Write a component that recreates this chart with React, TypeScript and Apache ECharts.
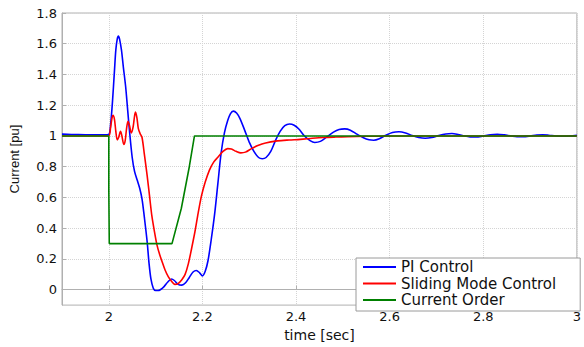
import React, { useEffect, useRef } from "react";
import * as echarts from "echarts";

const xTicks = [2, 2.2, 2.4, 2.6, 2.8, 3];
const yTicks = [0, 0.2, 0.4, 0.6, 0.8, 1, 1.2, 1.4, 1.6, 1.8];

const piTime = [
  1.9, 1.92, 1.95, 1.99, 2.0, 2.004, 2.008, 2.012, 2.015, 2.018, 2.0205, 2.023, 2.027, 2.031, 2.036,
  2.04, 2.044, 2.05, 2.055, 2.061, 2.066, 2.071, 2.076, 2.082, 2.086, 2.09, 2.095, 2.1, 2.105, 2.11,
  2.118, 2.126, 2.134, 2.14, 2.148, 2.156, 2.164, 2.172, 2.18, 2.187, 2.194, 2.2, 2.206, 2.212, 2.219,
  2.226, 2.233, 2.24, 2.247, 2.254, 2.26, 2.266, 2.273, 2.28, 2.29, 2.3, 2.31, 2.32, 2.328, 2.336,
  2.346, 2.356, 2.366, 2.376, 2.386, 2.396, 2.406, 2.418, 2.43, 2.44, 2.452, 2.466, 2.48, 2.492, 2.504,
  2.516, 2.53, 2.544, 2.556, 2.566, 2.578, 2.592, 2.606, 2.62, 2.634, 2.648, 2.662, 2.676, 2.69, 2.705,
  2.72, 2.733, 2.746, 2.76, 2.772, 2.785, 2.8, 2.815, 2.83, 2.845, 2.86, 2.872, 2.885, 2.9, 2.914,
  2.927, 2.94, 2.955, 2.97, 2.985, 3.0,
];
const piValue = [
  1.012, 1.01, 1.008, 1.007, 1.01, 1.08, 1.23, 1.42, 1.56, 1.63, 1.65, 1.63, 1.56, 1.45, 1.32,
  1.18, 1.04, 0.86, 0.77, 0.71, 0.66, 0.59, 0.47, 0.31, 0.17, 0.07, 0.01, -0.005, -0.005, 0.0,
  0.02, 0.05, 0.07, 0.06, 0.035, 0.03, 0.045, 0.08, 0.115, 0.125, 0.11, 0.09, 0.12, 0.19, 0.33,
  0.49, 0.69, 0.89, 1.02, 1.1, 1.145, 1.162, 1.15, 1.115, 1.04, 0.96, 0.9, 0.86, 0.852, 0.86,
  0.9, 0.97, 1.03, 1.067, 1.078, 1.07, 1.045, 1.0, 0.97, 0.958, 0.965, 0.995, 1.025, 1.042, 1.046,
  1.038, 1.012, 0.988, 0.975, 0.972, 0.982, 1.005, 1.023, 1.028, 1.02, 1.003, 0.99, 0.985, 0.99, 1.003,
  1.013, 1.016, 1.01, 1.0, 0.994, 0.993, 1.0, 1.008, 1.011, 1.007, 1.0, 0.996, 0.996, 1.0, 1.006,
  1.008, 1.005, 1.0, 0.998, 1.0, 1.004,
];

const smcTime = [
  1.9, 1.99, 2.0, 2.004, 2.007, 2.009, 2.012, 2.015, 2.018, 2.021, 2.025, 2.028, 2.032, 2.035, 2.038,
  2.041, 2.044, 2.048, 2.052, 2.055, 2.057, 2.06, 2.063, 2.067, 2.071, 2.076, 2.082, 2.087, 2.092, 2.098,
  2.103, 2.108, 2.113, 2.12, 2.127, 2.134, 2.141, 2.148, 2.156, 2.163, 2.17, 2.177, 2.184, 2.191, 2.198,
  2.206, 2.215, 2.224, 2.233, 2.244, 2.254, 2.262, 2.272, 2.282, 2.292, 2.305, 2.317, 2.335, 2.36, 2.385,
  2.409, 2.435, 2.458, 2.485, 2.51, 2.55, 2.6, 3.0,
];
const smcValue = [
  1.0, 1.0, 1.0, 1.06, 1.12, 1.135, 1.11, 1.03, 0.975, 0.99, 1.03, 1.0, 0.945, 0.97, 1.05,
  1.095, 1.07, 1.02, 1.06, 1.13, 1.155, 1.12, 1.05, 1.015, 0.99, 0.88, 0.74, 0.61, 0.48, 0.37,
  0.29, 0.235, 0.19, 0.13, 0.085, 0.055, 0.035, 0.04, 0.065, 0.1, 0.17, 0.27, 0.377, 0.5, 0.61,
  0.7, 0.778, 0.83, 0.862, 0.9, 0.918, 0.915, 0.9, 0.89, 0.895, 0.918, 0.936, 0.955, 0.968, 0.974,
  0.978, 0.985, 0.99, 0.993, 0.995, 0.998, 1.0, 1.0,
];

const orderTime = [1.9, 2.0, 2.0, 2.001, 2.135, 2.155, 2.172, 2.183, 3.0];
const orderValue = [1.0, 1.0, 0.65, 0.3, 0.3, 0.53, 0.8, 1.0, 1.0];

const seriesNames = ["PI Control", "Sliding Mode Control", "Current Order"];
const seriesColors = ["#0000ff", "#ff0000", "#008000"];

const zip = (xs: number[], ys: number[]) => xs.map((x, i) => [x, ys[i]]);

const frameColor = "#b0b0b0";
const gridColor = "#d4d4d4";
const textFont = "DejaVu Sans";

export default function App() {
  const ref = useRef<HTMLDivElement>(null);
  useEffect(() => {
    if (!ref.current) return;
    const chart = echarts.init(ref.current, undefined, { renderer: "svg" });
    const datasets = [zip(piTime, piValue), zip(smcTime, smcValue), zip(orderTime, orderValue)];
    chart.setOption({
      animation: false,
      backgroundColor: "#ffffff",
      color: seriesColors,
      grid: {
        left: 60,
        right: 2.5,
        top: 13,
        bottom: 35,
        show: true,
        borderColor: frameColor,
        borderWidth: 1,
        backgroundColor: "#ffffff",
      },
      legend: {
        orient: "vertical",
        left: 356,
        top: 258,
        padding: [1, 24, 3, 6],
        itemGap: 0.5,
        itemWidth: 33,
        itemHeight: 16,
        selectedMode: false,
        backgroundColor: "#ffffff",
        borderColor: "#9a9a9a",
        borderWidth: 1,
        itemStyle: { opacity: 0 },
        textStyle: { fontFamily: textFont, fontSize: 15, color: "#111", lineHeight: 16 },
        data: seriesNames,
      },
      xAxis: {
        type: "value",
        min: 1.9,
        max: 3,
        name: "time [sec]",
        nameLocation: "middle",
        nameGap: 18,
        nameTextStyle: { fontFamily: textFont, fontSize: 14, color: "#111" },
        axisLine: { show: true, lineStyle: { color: frameColor } },
        axisTick: { show: true, inside: true, length: 4, lineStyle: { color: frameColor }, customValues: xTicks },
        axisLabel: {
          customValues: xTicks,
          fontFamily: textFont,
          fontSize: 13,
          color: "#111",
          margin: 5,
          formatter: (v: number) => String(v),
        },
        splitLine: { show: true, lineStyle: { color: gridColor, type: "dotted", width: 1 } },
      },
      yAxis: {
        type: "value",
        min: -0.1,
        max: 1.8,
        name: "Current [pu]",
        nameLocation: "middle",
        nameGap: 41,
        nameTextStyle: { fontFamily: "Liberation Sans", fontSize: 13, color: "#111" },
        axisLine: { show: true, lineStyle: { color: frameColor } },
        axisTick: { show: true, inside: true, length: 4, lineStyle: { color: frameColor }, customValues: yTicks },
        axisLabel: {
          customValues: yTicks,
          fontFamily: textFont,
          fontSize: 13,
          color: "#111",
          margin: 5,
          formatter: (v: number) => String(v),
        },
        splitLine: { show: true, lineStyle: { color: gridColor, type: "dotted", width: 1 } },
      },
      series: seriesNames.map((name, i) => ({
        name,
        type: "line",
        data: datasets[i],
        symbol: "none",
        smooth: i === 2 ? false : 0.3,
        itemStyle: { color: seriesColors[i] },
        lineStyle: { color: seriesColors[i], width: 1.6 },
        z: 2 + i,
      })),
    });
    return () => chart.dispose();
  }, []);
  return (
    <div
      ref={ref}
      style={{ position: "fixed", left: 0, top: 0, width: 584, height: 347 }}
    />
  );
}
